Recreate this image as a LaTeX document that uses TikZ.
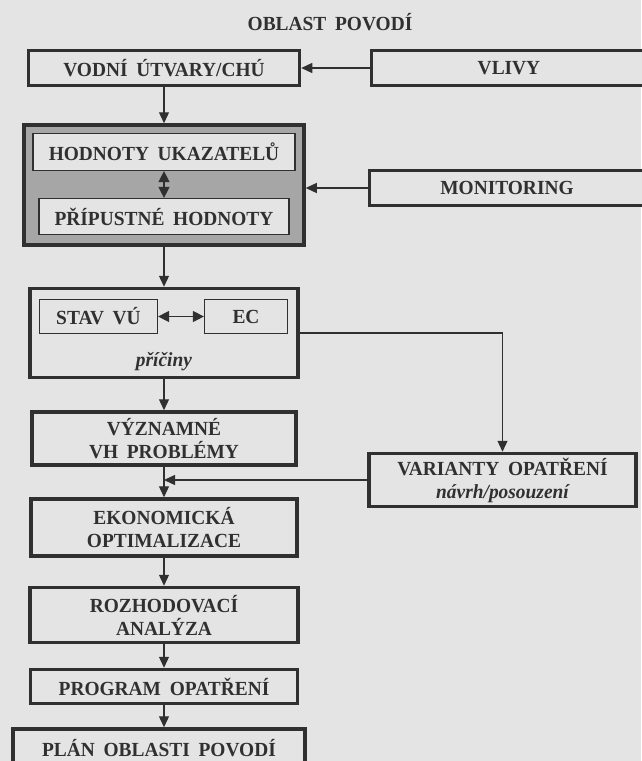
\documentclass[tikz,border=0pt]{standalone}
\usepackage{fontspec}
\setmainfont[FakeStretch=0.97, WordSpace=1.8]{Liberation Serif}
\usetikzlibrary{arrows.meta,positioning,calc}
\definecolor{paper}{RGB}{228,228,228}
\definecolor{inkgray}{RGB}{48,48,48}
\definecolor{shadegray}{RGB}{166,166,166}
\newcommand{\boxfont}{\bfseries\fontsize{20}{23}\selectfont}

\begin{document}
\begin{tikzpicture}[
    x=1pt, y=-1pt,
    box/.style={rectangle, draw=inkgray, fill=paper, line width=3.5pt, align=center, inner sep=0pt, text=inkgray, font=\boxfont},
    subbox/.style={rectangle, draw=inkgray, fill=paper, line width=1.2pt, align=center, inner sep=0pt, text=inkgray, font=\boxfont},
    arrow/.style={-{Triangle[length=11pt,width=10pt]}, line width=1.2pt, inkgray},
    dblarrow/.style={{Triangle[length=11pt,width=11pt]}-{Triangle[length=11pt,width=11pt]}, line width=1.2pt, inkgray},
]
\useasboundingbox (0,0) rectangle (641,761);
\fill[paper] (0,0) rectangle (641,761);

\node[text=inkgray, font=\boxfont] (title) at (330,22) {OBLAST POVODÍ};

\node[box, minimum width=271pt, minimum height=35pt] (vodni) at (164,68) {VODNÍ ÚTVARY/CHÚ};
\node[box, minimum width=275pt, minimum height=35pt] (vlivy) at (509,68) {VLIVY};

% ukazatele a hodnoty
\node[box, fill=shadegray, minimum width=280pt, minimum height=120pt] (ukazatele) at (164,185) {};
\node[subbox, minimum width=262pt, minimum height=37pt] (hodnoty) at (164,152) {HODNOTY UKAZATELŮ};
\node[subbox, minimum width=250pt, minimum height=36pt] (pripustne) at (164,216.5) {PŘÍPUSTNÉ HODNOTY};
\node[box, minimum width=275pt, minimum height=35pt] (monitoring) at (507,188) {MONITORING};

% stav
\node[box, minimum width=268pt, minimum height=89pt] (stav) at (164,333) {};
\node[subbox, minimum width=118pt, minimum height=34pt] (stavvu) at (98.5,316.5) {STAV VÚ};
\node[subbox, minimum width=83pt, minimum height=34pt] (ec) at (246,316.5) {EC};
\node[text=inkgray, font=\boxfont\itshape] (priciny) at (164,362) {příčiny};

\node[box, minimum width=264pt, minimum height=53pt] (vyznamne) at (164,438.5) {VÝZNAMNÉ\\VH PROBLÉMY};
\node[box, minimum width=267pt, minimum height=53pt] (varianty) at (502.5,480) {VARIANTY OPATŘENÍ\\{\itshape návrh/posouzení}};
\node[box, minimum width=266pt, minimum height=57pt] (ekonomicka) at (164,527.5) {EKONOMICKÁ\\OPTIMALIZACE};
\node[box, minimum width=268pt, minimum height=55pt] (rozhodovaci) at (164,615) {ROZHODOVACÍ\\ANALÝZA};
\node[box, minimum width=267pt, minimum height=34pt] (program) at (164,686.5) {PROGRAM OPATŘENÍ};
\node[box, minimum width=292pt, minimum height=38pt] (plan) at (159,748) {PLÁN OBLASTI POVODÍ};

% spojnice
\draw[arrow] (vlivy) -- (vodni);
\draw[arrow] (vodni) -- (ukazatele);
\draw[dblarrow] (hodnoty) -- (pripustne);
\draw[arrow] (monitoring.west) -- (monitoring.west -| ukazatele.east);
\draw[arrow] (ukazatele) -- (stav);
\draw[dblarrow] (stavvu) -- (ec);
\draw[arrow] (stav.east) -| (varianty.north);
\draw[arrow] (stav) -- (vyznamne);
\draw[arrow] (vyznamne) -- (ekonomicka);
\draw[arrow] (varianty.west) -- (varianty.west -| vyznamne.south);
\draw[arrow] (ekonomicka) -- (rozhodovaci);
\draw[arrow] (rozhodovaci) -- (program);
\draw[arrow] (program.south) -- (program.south |- plan.north);
\end{tikzpicture}
\end{document}
